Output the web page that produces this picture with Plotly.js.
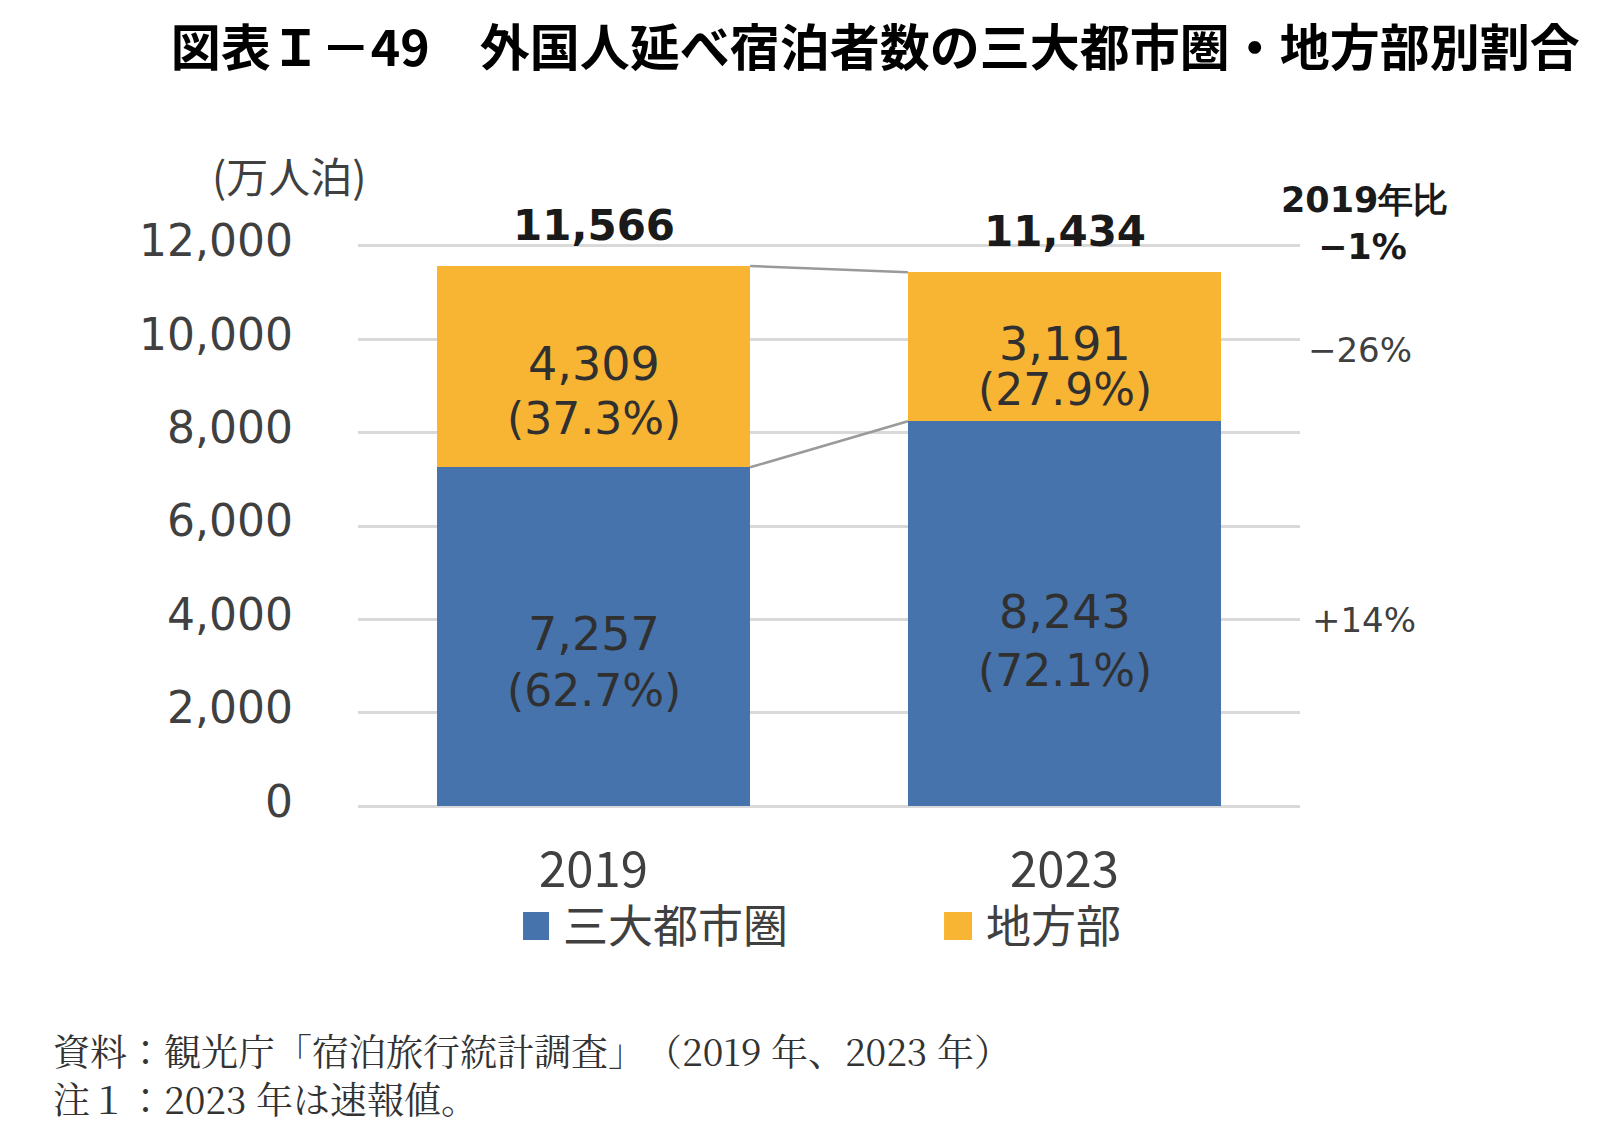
<!DOCTYPE html>
<html>
<head>
<meta charset="utf-8">
<script src="https://cdn.plot.ly/plotly-3.0.1.min.js"></script>
<style>
  html, body { margin: 0; padding: 0; background: #ffffff; }
  #chart { width: 1600px; height: 1127px; }
</style>
</head>
<body>
<div id="chart"></div>
<script>
// ---- data ----
const years = ['2019', '2023'];
const metroValues = [7257, 8243];          // 三大都市圏 (万人泊)
const regionalValues = [4309, 3191];       // 地方部 (万人泊)
const totalValues = [11566, 11434];        // 合計
const metroShares = ['62.7%', '72.1%'];
const regionalShares = ['37.3%', '27.9%'];
const changeLabels = { total: '−1%', regional: '−26%', metro: '+14%' };
const seriesNames = ['三大都市圏', '地方部'];
const yTicks = [0, 2000, 4000, 6000, 8000, 10000, 12000];
const footerLines = ['資料：観光庁「宿泊旅行統計調査」　（2019 年、2023 年）', '注１：2023 年は速報値。'];

const BLUE = '#4673ab';
const ORANGE = '#f8b433';
const TXT = '#404040';
const NUM_FONT = 'DejaVu Sans, Verdana, sans-serif';
const JP_FONT = 'Noto Sans CJK JP, sans-serif';
const SERIF_FONT = 'Noto Serif CJK JP, Noto Sans CJK JP, serif';
const BARGAP = 0.335;
const HALF = (1 - BARGAP) / 2;

const fmt = v => v.toLocaleString('en-US');

const traces = [
  { type: 'bar', name: seriesNames[0], x: years, y: metroValues,
    marker: { color: BLUE }, hoverinfo: 'skip' },
  { type: 'bar', name: seriesNames[1], x: years, y: regionalValues,
    marker: { color: ORANGE }, hoverinfo: 'skip' }
];

// category index positions (numeric-looking category names must be referenced by index)
const idx = years.map((_, i) => i);

// per-label pixel offsets (value line, share line) relative to the segment middle
const metroOffsets = [[3, -54], [2, -57]];
const regionalOffsets = [[3, -52], [3, -43]];

const annotations = [];
const segLabel = (x, y, text, ys, size) => ({ x: x, y: y, xref: 'x', yref: 'y',
  xanchor: 'center', yanchor: 'middle', text: text, showarrow: false, yshift: ys,
  font: { family: NUM_FONT, size: size, color: '#303030' } });
idx.forEach(i => {
  const mMid = metroValues[i] / 2;
  const rMid = metroValues[i] + regionalValues[i] / 2;
  annotations.push(segLabel(i, mMid, fmt(metroValues[i]), metroOffsets[i][0], 46));
  annotations.push(segLabel(i, mMid, '(' + metroShares[i] + ')', metroOffsets[i][1], 44));
  annotations.push(segLabel(i, rMid, fmt(regionalValues[i]), regionalOffsets[i][0], 46));
  annotations.push(segLabel(i, rMid, '(' + regionalShares[i] + ')', regionalOffsets[i][1], 44));
  annotations.push({ x: i, y: totalValues[i], xref: 'x', yref: 'y',
    xanchor: 'center', yanchor: 'middle',
    text: '<b>' + fmt(totalValues[i]) + '</b>', showarrow: false,
    yshift: 41, font: { family: NUM_FONT, size: 42, color: '#1a1a1a' } });
});

// right-hand comparison labels, tied to the 2023 bar
const last = years.length - 1;
const rightLabel = (text, xp, yv, ys, size, color) => ({
  x: xp, xref: 'paper', y: yv, yref: 'y', yshift: ys, xanchor: 'center', yanchor: 'middle',
  text: text, showarrow: false, font: { family: NUM_FONT, size: size, color: color } });
annotations.push(rightLabel('<b>2019年比</b>', 1.068, totalValues[last], 72, 35, '#1a1a1a'));
annotations.push(rightLabel('<b>' + changeLabels.total + '</b>', 1.066, totalValues[last], 25, 35, '#1a1a1a'));
annotations.push(rightLabel(changeLabels.regional, 1.064, metroValues[last] + regionalValues[last] / 2, -3, 34, TXT));
annotations.push(rightLabel(changeLabels.metro, 1.068, metroValues[last] / 2, -6, 34, TXT));

// unit label
annotations.push({ x: -0.073, xref: 'paper', y: 1.121, yref: 'paper', xanchor: 'center', yanchor: 'middle',
  text: '(万人泊)', showarrow: false,
  font: { family: JP_FONT, size: 42, color: TXT } });

// footer (source and note)
annotations.push({ x: -0.326, xref: 'paper', xanchor: 'left', y: -0.469, yref: 'paper', yanchor: 'middle',
  align: 'left', text: footerLines.join('<br>'), showarrow: false,
  font: { family: SERIF_FONT, size: 37, color: '#333333' } });

// connector lines between the bars
const shapes = [
  { type: 'line', xref: 'x', yref: 'y', x0: idx[0] + HALF, x1: idx[1] - HALF,
    y0: totalValues[0], y1: totalValues[1], line: { color: '#9a9a9a', width: 2.5 } },
  { type: 'line', xref: 'x', yref: 'y', x0: idx[0] + HALF, x1: idx[1] - HALF,
    y0: metroValues[0], y1: metroValues[1], line: { color: '#9a9a9a', width: 2.5 } }
];

const layout = {
  width: 1600, height: 1127,
  margin: { l: 358, r: 300, t: 243.2, b: 318.2, pad: 0 },
  paper_bgcolor: '#ffffff', plot_bgcolor: '#ffffff',
  barmode: 'stack', bargap: BARGAP,
  title: { text: '<b>図表Ｉ－49　外国人延べ宿泊者数の三大都市圏・地方部別割合</b>',
    xref: 'container', x: 0.547, xanchor: 'center', yref: 'container', y: 0.957, yanchor: 'middle',
    font: { family: JP_FONT, size: 50, color: '#000000' } },
  xaxis: { type: 'category', range: [-0.5, 1.5], showgrid: false, showline: false, zeroline: false, ticks: '',
    ticklabelstandoff: 28,
    tickfont: { family: JP_FONT, size: 49, color: TXT } },
  yaxis: { range: [-60, 12060], tickvals: yTicks, ticktext: yTicks.map(fmt),
    showline: false, ticks: '', ticklabelstandoff: 64, ticklabelshift: -5,
    gridcolor: '#d9d9d9', gridwidth: 3,
    zeroline: true, zerolinecolor: '#d9d9d9', zerolinewidth: 3,
    tickfont: { family: NUM_FONT, size: 44, color: TXT } },
  showlegend: true,
  legend: { orientation: 'h', traceorder: 'normal', x: 0.1752, xanchor: 'left', y: -0.207, yanchor: 'middle',
    entrywidth: 378, entrywidthmode: 'pixels', itemclick: false, itemdoubleclick: false,
    bgcolor: 'rgba(0,0,0,0)', font: { family: JP_FONT, size: 45, color: TXT } },
  annotations: annotations,
  shapes: shapes
};

Plotly.newPlot('chart', traces, layout, { displayModeBar: false, staticPlot: true }).then(() => {
  document.querySelectorAll('#chart .legend .legendpoints path').forEach(p => {
    p.setAttribute('d', 'M-22,-14H6V14H-22Z');
  });
});
</script>
</body>
</html>
